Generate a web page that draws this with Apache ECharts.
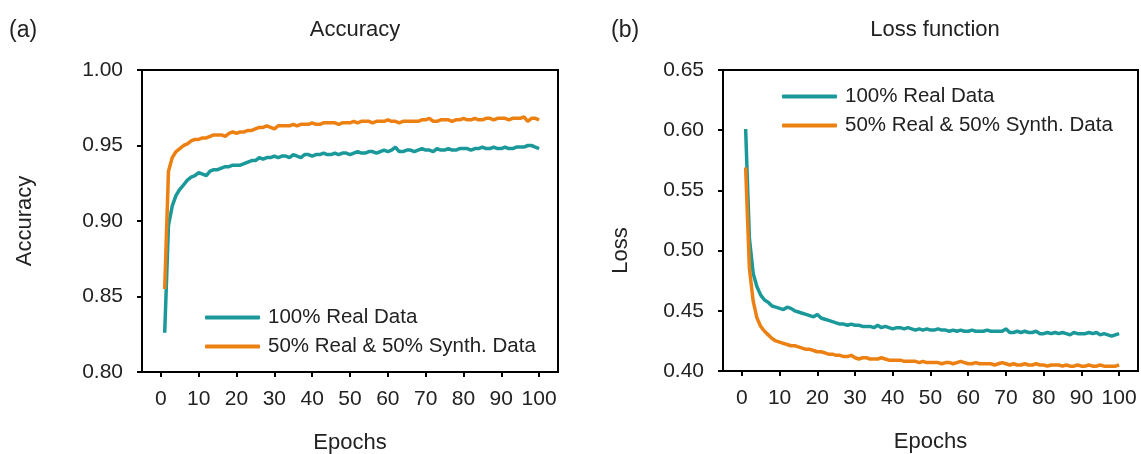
<!DOCTYPE html>
<html>
<head>
<meta charset="utf-8">
<script src="https://cdn.jsdelivr.net/npm/echarts@6/dist/echarts.min.js"></script>
<style>
html,body{margin:0;padding:0;background:#fff;}
#chart{width:1141px;height:454px;}
</style>
</head>
<body>
<div id="chart"></div>
<script>
// ---- Data ----
const seriesNames = ['100% Real Data', '50% Real & 50% Synth. Data'];
const xTickValues = [0, 10, 20, 30, 40, 50, 60, 70, 80, 90, 100];
const accTicks = [0.80, 0.85, 0.90, 0.95, 1.00];
const lossTicks = [0.40, 0.45, 0.50, 0.55, 0.60, 0.65];

const accReal = [
0.826,0.897,0.910,0.917,0.921,0.924,0.927,0.929,0.930,0.932,
0.931,0.930,0.933,0.934,0.934,0.935,0.936,0.936,0.937,0.937,
0.937,0.938,0.939,0.940,0.940,0.942,0.941,0.942,0.942,0.943,
0.942,0.943,0.943,0.942,0.944,0.943,0.942,0.944,0.944,0.943,
0.944,0.944,0.945,0.944,0.944,0.945,0.944,0.945,0.945,0.944,
0.945,0.946,0.945,0.945,0.946,0.946,0.945,0.946,0.947,0.946,
0.947,0.949,0.946,0.946,0.947,0.947,0.946,0.947,0.948,0.947,
0.947,0.946,0.948,0.947,0.947,0.948,0.947,0.947,0.948,0.948,
0.948,0.947,0.948,0.948,0.949,0.948,0.948,0.949,0.948,0.948,
0.949,0.948,0.948,0.949,0.949,0.949,0.950,0.950,0.949,0.948];

const accMix = [
0.855,0.933,0.942,0.946,0.948,0.950,0.951,0.953,0.954,0.954,
0.955,0.955,0.956,0.957,0.957,0.957,0.956,0.958,0.959,0.958,
0.959,0.959,0.960,0.960,0.961,0.962,0.962,0.963,0.962,0.961,
0.963,0.963,0.963,0.963,0.964,0.963,0.964,0.964,0.964,0.965,
0.964,0.964,0.965,0.965,0.965,0.965,0.964,0.965,0.965,0.965,
0.966,0.965,0.966,0.966,0.966,0.965,0.966,0.966,0.966,0.967,
0.966,0.966,0.965,0.966,0.966,0.966,0.966,0.966,0.967,0.967,
0.968,0.966,0.966,0.967,0.967,0.967,0.966,0.967,0.967,0.968,
0.967,0.967,0.968,0.967,0.967,0.968,0.968,0.967,0.968,0.968,
0.968,0.967,0.968,0.968,0.968,0.969,0.966,0.968,0.968,0.967];

const lossReal = [
0.601,0.510,0.481,0.470,0.463,0.459,0.457,0.454,0.453,0.452,
0.451,0.453,0.452,0.450,0.449,0.448,0.447,0.446,0.445,0.447,
0.444,0.443,0.442,0.441,0.440,0.439,0.439,0.438,0.439,0.438,
0.438,0.437,0.437,0.437,0.436,0.438,0.436,0.437,0.436,0.435,
0.436,0.436,0.435,0.436,0.435,0.434,0.435,0.434,0.435,0.434,
0.434,0.435,0.434,0.434,0.433,0.434,0.433,0.434,0.433,0.433,
0.434,0.433,0.433,0.433,0.434,0.433,0.433,0.433,0.433,0.435,
0.432,0.432,0.433,0.432,0.433,0.432,0.432,0.433,0.431,0.431,
0.432,0.431,0.432,0.431,0.432,0.431,0.430,0.432,0.431,0.431,
0.431,0.432,0.431,0.432,0.430,0.431,0.430,0.429,0.430,0.431];

const lossMix = [
0.569,0.485,0.458,0.444,0.437,0.433,0.430,0.427,0.425,0.424,
0.423,0.422,0.421,0.421,0.420,0.419,0.418,0.418,0.417,0.416,
0.416,0.415,0.414,0.414,0.413,0.413,0.412,0.412,0.413,0.411,
0.410,0.411,0.411,0.410,0.410,0.410,0.411,0.410,0.409,0.409,
0.409,0.409,0.408,0.408,0.408,0.408,0.407,0.408,0.407,0.407,
0.407,0.407,0.406,0.407,0.407,0.406,0.407,0.408,0.407,0.406,
0.406,0.407,0.406,0.406,0.406,0.406,0.405,0.406,0.407,0.406,
0.405,0.406,0.405,0.405,0.406,0.405,0.405,0.406,0.405,0.405,
0.404,0.405,0.405,0.405,0.404,0.405,0.404,0.404,0.405,0.404,
0.404,0.405,0.404,0.404,0.405,0.404,0.404,0.404,0.404,0.405];

// ---- Build ----
const TEAL = '#1b999a';
const ORANGE = '#ec8012';
const FONT = '"Liberation Sans", Arial, sans-serif';
const pairs = arr => arr.map((v, i) => [i + 1, v]);

function xAxis(gridIndex) {
  return {
    type: 'value', gridIndex, min: -5, max: 105,
    name: 'Epochs', nameLocation: 'middle', nameGap: 60,
    nameTextStyle: {fontSize: 22, color: '#222', fontFamily: FONT},
    axisLine: {show: true, onZero: false, lineStyle: {color: '#000', width: 2}},
    axisTick: {show: true, inside: false, length: 5, customValues: xTickValues, lineStyle: {color: '#000', width: 2}},
    axisLabel: {customValues: xTickValues, fontSize: 21, color: '#222', fontFamily: FONT, margin: 17},
    splitLine: {show: false}
  };
}
function yAxis(gridIndex, min, max, name, gap, ticks, pad) {
  return {
    type: 'value', gridIndex, min, max, interval: 0.05,
    name, nameLocation: 'middle', nameGap: gap,
    nameTextStyle: {fontSize: 22, color: '#222', fontFamily: FONT, padding: pad},
    axisLine: {show: true, onZero: false, lineStyle: {color: '#000', width: 2}},
    axisTick: {show: true, inside: false, length: 5, customValues: ticks, lineStyle: {color: '#000', width: 2}},
    axisLabel: {customValues: ticks, fontSize: 21, color: '#222', fontFamily: FONT, margin: 19,
      formatter: v => Number(v).toFixed(2)},
    splitLine: {show: false}
  };
}
function line(name, data, color, xi) {
  return {
    name, type: 'line', xAxisIndex: xi, yAxisIndex: xi, data,
    showSymbol: false, symbol: 'none', smooth: false,
    lineStyle: {color, width: 3.5}, itemStyle: {color},
    animation: false
  };
}

const chart = echarts.init(document.getElementById('chart'), null, {renderer: 'canvas'});
chart.setOption({
  backgroundColor: '#fff',
  animation: false,
  title: [
    {text: 'Accuracy', left: 350, top: 14, textAlign: 'center', textStyle: {fontSize: 22, fontWeight: 'normal', color: '#222', fontFamily: FONT}},
    {text: 'Loss function', left: 930, top: 14, textAlign: 'center', textStyle: {fontSize: 22, fontWeight: 'normal', color: '#222', fontFamily: FONT}},
    {text: '(a)', left: 4, top: 14, textStyle: {fontSize: 23, fontWeight: 'normal', color: '#222', fontFamily: FONT}},
    {text: '(b)', left: 606, top: 14, textStyle: {fontSize: 23, fontWeight: 'normal', color: '#222', fontFamily: FONT}}
  ],
  grid: [
    {left: 142, top: 70, width: 416, height: 302, show: true, borderColor: '#000', borderWidth: 2,
     backgroundColor: 'transparent', outerBoundsMode: 'none', containLabel: false},
    {left: 723, top: 70, width: 415, height: 301, show: true, borderColor: '#000', borderWidth: 2,
     backgroundColor: 'transparent', outerBoundsMode: 'none', containLabel: false}
  ],
  legend: [
    {left: 200, top: 302, orient: 'vertical', itemWidth: 55, itemHeight: 4, itemGap: 8, icon: 'roundRect',
     textStyle: {fontSize: 20.5, color: '#222', fontFamily: FONT, padding: [0, 0, 0, 3]}, data: seriesNames},
    {left: 777, top: 81, orient: 'vertical', itemWidth: 55, itemHeight: 4, itemGap: 8, icon: 'roundRect',
     textStyle: {fontSize: 20.5, color: '#222', fontFamily: FONT, padding: [0, 0, 0, 3]}, data: seriesNames}
  ],
  xAxis: [xAxis(0), xAxis(1)],
  yAxis: [yAxis(0, 0.80, 1.00, 'Accuracy', 106, accTicks, [0, 0, 0, 0]),
          yAxis(1, 0.40, 0.65, 'Loss', 91, lossTicks, [0, 60, 0, 0])],
  series: [
    line(seriesNames[0], pairs(accReal), TEAL, 0),
    line(seriesNames[1], pairs(accMix), ORANGE, 0),
    line(seriesNames[0], pairs(lossReal), TEAL, 1),
    line(seriesNames[1], pairs(lossMix), ORANGE, 1)
  ]
});
</script>
</body>
</html>
